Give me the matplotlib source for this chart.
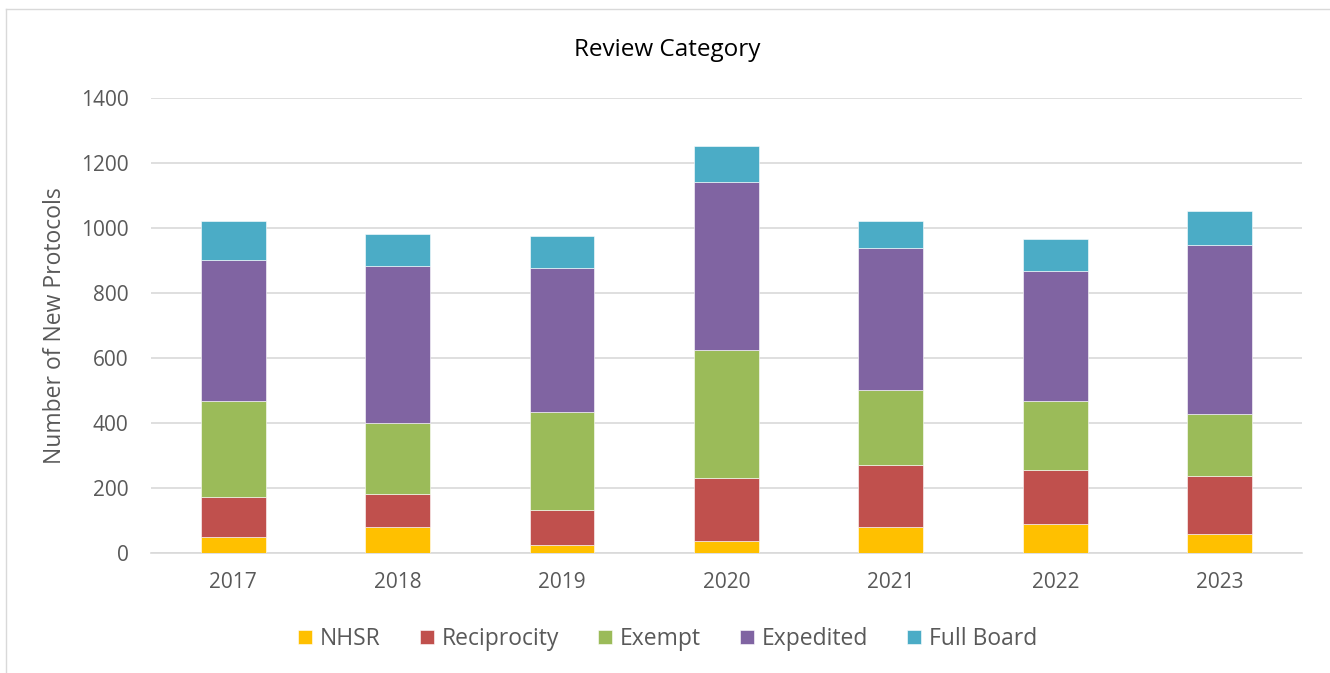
import numpy as np
import matplotlib
matplotlib.use("Agg")
import matplotlib.pyplot as plt
from matplotlib.lines import Line2D

plt.rcParams['font.family'] = ['Open Sans', 'DejaVu Sans']

# data
years = ['2017', '2018', '2019', '2020', '2021', '2022', '2023']
nhsr = [48, 81, 25, 36, 81, 90, 58]
reciprocity = [123, 102, 108, 196, 191, 164, 180]
exempt = [298, 217, 300, 392, 228, 215, 191]
expedited = [433, 483, 444, 519, 437, 399, 519]
full_board = [120, 98, 97, 110, 84, 98, 103]

series = [('NHSR', nhsr, '#FFC000'),
          ('Reciprocity', reciprocity, '#C0504D'),
          ('Exempt', exempt, '#9BBB59'),
          ('Expedited', expedited, '#8064A2'),
          ('Full Board', full_board, '#4BACC6')]

fig = plt.figure(figsize=(13.3, 6.73), dpi=100)
ax = fig.add_axes([0.1135, 0.1783, 0.8654, 0.6761])

x = np.arange(len(years))
bottom = np.zeros(len(years))
for name, vals, col in series:
    ax.bar(x, vals, 0.394, bottom=bottom, color=col, label=name,
           edgecolor='white', linewidth=0.4, zorder=3)
    bottom += np.array(vals)

ax.set_xlim(-0.5, len(years) - 0.5)
ax.set_ylim(0, 1400)
ax.set_yticks(range(0, 1401, 200))
ax.set_xticks(x)
ax.set_xticklabels(years)
ax.grid(axis='y', color='#D9D9D9', linewidth=1.2, zorder=0)
for s in ['top', 'right', 'left']:
    ax.spines[s].set_visible(False)
ax.spines['bottom'].set_color('#D9D9D9')
ax.spines['bottom'].set_linewidth(1.2)
ax.tick_params(axis='both', length=0, labelsize=15, colors='#595959')
ax.tick_params(axis='y', pad=16)
ax.tick_params(axis='x', pad=14)
ax.set_ylabel('Number of New Protocols', fontsize=16.5, color='#595959', labelpad=10)

fig.text(0.502, 0.925, 'Review Category', ha='center', va='center',
         fontsize=17.5, color='black')

handles, labels = ax.get_legend_handles_labels()
fig.legend(handles, labels, loc='center', bbox_to_anchor=(0.502, 0.0505),
           ncol=5, frameon=False, fontsize=16.5, handlelength=0.6,
           handleheight=0.6, handletextpad=0.35, columnspacing=1.7,
           labelcolor='#595959')

# outer chart border
fig.add_artist(Line2D([6 / 1330, 6 / 1330], [0, 1 - 9 / 673],
                      transform=fig.transFigure, color='#D9D9D9', linewidth=1))
fig.add_artist(Line2D([6 / 1330, 1], [1 - 9 / 673, 1 - 9 / 673],
                      transform=fig.transFigure, color='#D9D9D9', linewidth=1))

fig.savefig('out.png', dpi=100)
